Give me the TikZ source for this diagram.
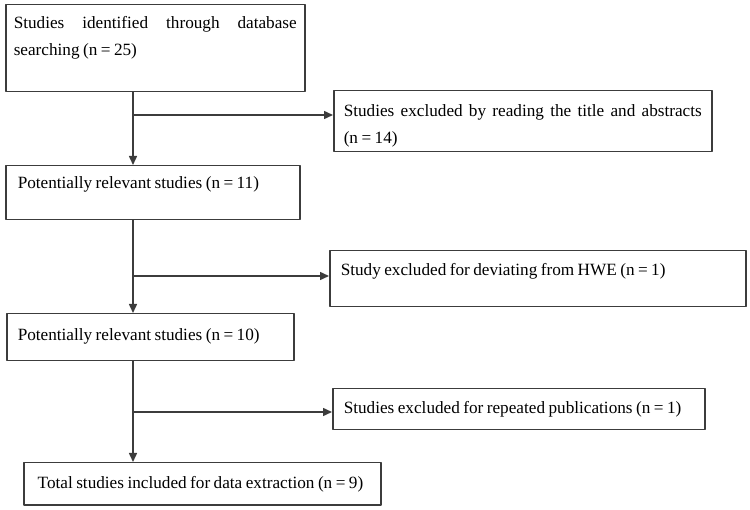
\documentclass[tikz,border=0pt]{standalone}
\usepackage{fontspec}
\setmainfont{Liberation Serif}[WordSpace=0.8]
\usetikzlibrary{arrows.meta}
\definecolor{linegray}{HTML}{3C3C3C}
\begin{document}
\begin{tikzpicture}[x=1pt, y=-1pt, line join=round, >={Triangle[length=9pt,width=8pt]},
	flowbox/.style={draw=linegray, line width=1.5pt, anchor=north west, align=justify, inner ysep=0pt,
		font=\fontsize{17.2}{27}\selectfont},
	link/.style={draw=linegray, line width=1.5pt}]
	\useasboundingbox (0,0) rectangle (750,510);
	\node[flowbox, inner xsep=8pt, text width=283pt, text height=24pt, text depth=63pt] (b1) at (5,4)
		{Studies identified through database\linebreak searching (n = 25)};
	\node[flowbox, inner xsep=10pt, text width=358pt, text height=26pt, text depth=35pt] (b2) at (333,90)
		{Studies excluded by reading the title and abstracts\linebreak (n = 14)};
	\node[flowbox, inner xsep=12pt, text width=270pt, text height=23pt, text depth=31pt] (b3) at (5,165)
		{Potentially relevant studies (n = 11)};
	\node[flowbox, inner xsep=11pt, text width=394pt, text height=25pt, text depth=31pt] (b4) at (329,250)
		{Study excluded for deviating from HWE (n = 1)};
	\node[flowbox, inner xsep=11pt, text width=265pt, text height=27pt, text depth=20pt] (b5) at (6,313)
		{Potentially relevant studies (n = 10)};
	\node[flowbox, inner xsep=11pt, text width=350pt, text height=25pt, text depth=16pt] (b6) at (332,388)
		{Studies excluded for repeated publications (n = 1)};
	\node[flowbox, inner xsep=14pt, text width=329pt, text height=26pt, text depth=16pt] (b7) at (23,462)
		{Total studies included for data extraction (n = 9)};
	\coordinate (trunk) at (133,0);
	\coordinate (s1) at (133,115);
	\coordinate (s2) at (133,276);
	\coordinate (s3) at (133,412);
	\draw[link,->] (b1.south -| trunk) -- (b3.north -| trunk);
	\draw[link,->] (s1) -- (s1 -| b2.west);
	\draw[link,->] (b3.south -| trunk) -- (b5.north -| trunk);
	\draw[link,->] (s2) -- (s2 -| b4.west);
	\draw[link,->] (b5.south -| trunk) -- (b7.north -| trunk);
	\draw[link,->] (s3) -- (s3 -| b6.west);
\end{tikzpicture}
\end{document}
